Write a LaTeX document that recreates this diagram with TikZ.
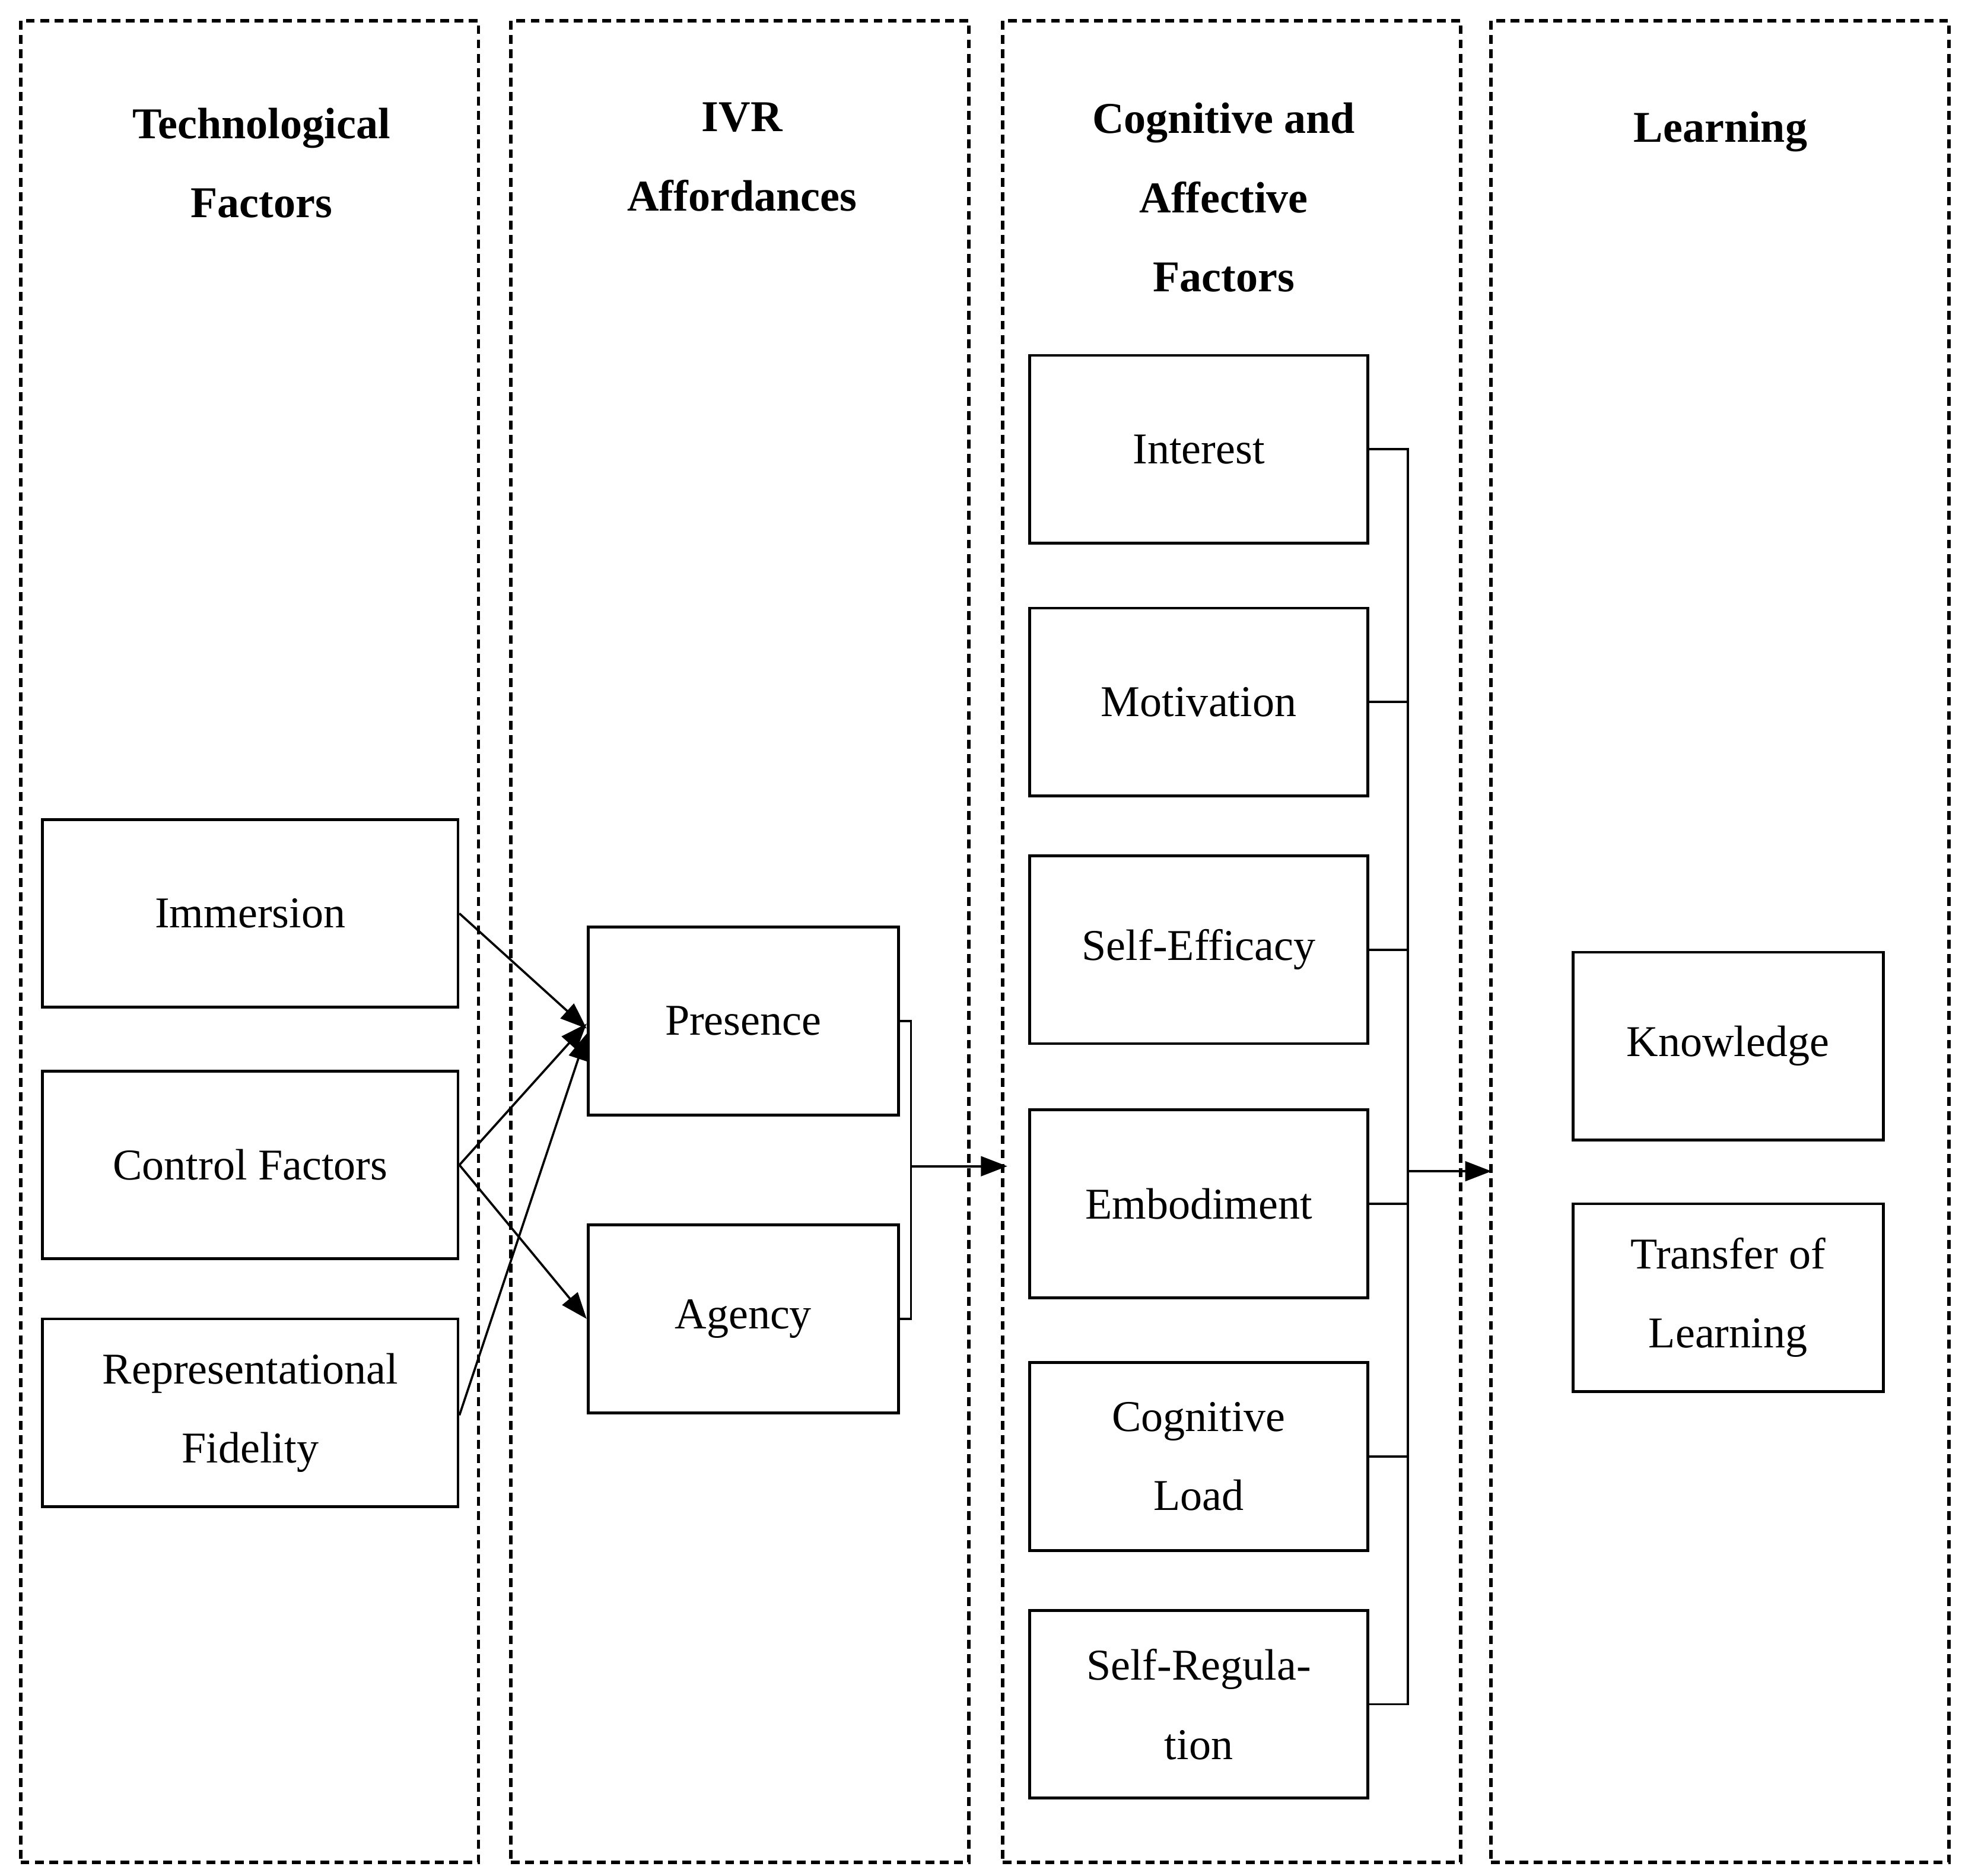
\documentclass[tikz,border=0pt]{standalone}
\usepackage{fontspec}
\setmainfont{Liberation Serif}
\usetikzlibrary{arrows.meta}
\begin{document}
\begin{tikzpicture}[x=0.02cm,y=-0.02cm,
  col/.style={draw,dash pattern=on 4pt off 2.5pt,line width=1.6pt,minimum width=366*0.02cm,minimum height=1472*0.02cm,anchor=north west,inner sep=0},
  ttl/.style={font=\fontsize{20}{36}\selectfont\bfseries,align=center,anchor=north},
  box/.style={draw,line width=1.3pt,font=\fontsize{20}{36}\selectfont,align=center,inner sep=0,minimum height=150*0.02cm},
  arr/.style={-{Triangle[length=12pt,width=9pt]},line width=1pt}]
\useasboundingbox (0,0) rectangle (1568,1499);
% columns
\node[col] (c1) at (15,15) {};
\node[col] (c2) at (407,15) {};
\node[col] (c3) at (800,15) {};
\node[col] (c4) at (1190,15) {};
% titles
\node[ttl] (t1) at (209,80) {Technological\\Factors};
\node[ttl] (t2) at (593,76) {IVR\\Affordances};
\node[ttl] (t3) at (978,76) {Cognitive and\\Affective\\Factors};
\node[ttl] (t4) at (1375,83) {Learning};
% technological factors
\node[box,minimum width=332*0.02cm] (imm) at (200,730) {Immersion};
\node[box,minimum width=332*0.02cm] (ctl) at (200,931) {Control Factors};
\node[box,minimum width=332*0.02cm] (rep) at (200,1129) {Representational\\Fidelity};
% affordances
\node[box,minimum width=248*0.02cm] (pre) at (594,816) {Presence};
\node[box,minimum width=248*0.02cm] (agy) at (594,1054) {Agency};
% cognitive and affective
\node[box,minimum width=270*0.02cm] (int) at (958,359) {Interest};
\node[box,minimum width=270*0.02cm] (mot) at (958,561) {Motivation};
\node[box,minimum width=270*0.02cm] (eff) at (958,759) {Self-Efficacy};
\node[box,minimum width=270*0.02cm] (emb) at (958,962) {Embodiment};
\node[box,minimum width=270*0.02cm] (cl) at (958,1164) {Cognitive\\Load};
\node[box,minimum width=270*0.02cm] (reg) at (958,1362) {Self-Regula-\\tion};
% learning
\node[box,minimum width=248*0.02cm] (kno) at (1381,836) {Knowledge};
\node[box,minimum width=248*0.02cm] (tra) at (1381,1037) {Transfer of\\Learning};
% arrows to affordances
\draw[arr] (imm.east) -- ([yshift=-6*0.02cm]pre.west);
\draw[arr] (ctl.east) -- ([yshift=-2*0.02cm]pre.west);
\draw[arr] (ctl.east) -- (agy.west);
\draw[arr] ([yshift=-2*0.02cm]rep.east) -- ([yshift=-10*0.02cm]pre.west);
% bracket affordances
\coordinate (b1) at (728,932);
\coordinate (a1) at (805,932);
\draw[line width=1pt] (pre.east) -| (b1) |- (agy.east);
\draw[arr] (b1) -- (a1);
% bracket cognitive
\coordinate (b2) at (1125,936);
\coordinate (a2) at (1192,936);
\draw[line width=1pt] (int.east) -| (b2) |- (reg.east);
\foreach \n in {mot,eff,emb,cl} \draw[line width=1pt] (\n.east) -- (\n.east -| b2);
\draw[arr] (b2) -- (a2);
\end{tikzpicture}
\end{document}
